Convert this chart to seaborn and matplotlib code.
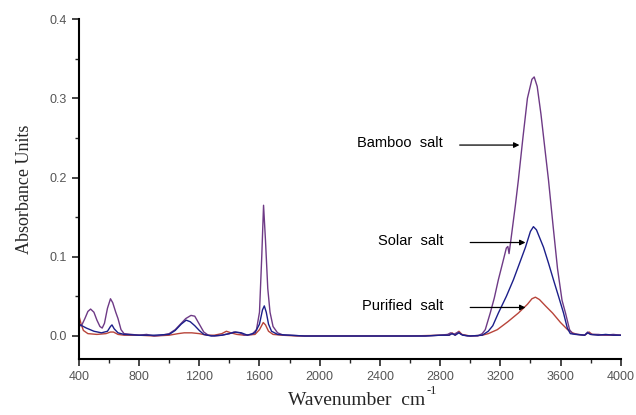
import numpy as np
import pandas as pd
import seaborn as sns
import matplotlib
matplotlib.use('Agg')
import matplotlib.pyplot as plt
from matplotlib.ticker import MultipleLocator

# FTIR spectra (wavenumber cm-1, absorbance)
bamboo_wn = [400, 420, 440, 460, 478, 500, 520, 540, 555, 570, 590, 610, 625, 645, 660, 680, 700,
             750, 800, 850, 900, 950, 1000, 1040, 1080, 1110, 1145, 1170, 1200, 1230, 1260, 1300,
             1350, 1400, 1430, 1470, 1500, 1550, 1580, 1600, 1615, 1627, 1640, 1655, 1670, 1690,
             1720, 1760, 1800, 1900, 2000, 2100, 2200, 2300, 2400, 2500, 2600, 2700, 2800, 2850,
             2870, 2890, 2920, 2940, 2980, 3050, 3080, 3100, 3133, 3160, 3187, 3215, 3240, 3250,
             3258, 3268, 3300, 3320, 3350, 3380, 3410, 3425, 3445, 3470, 3500, 3520, 3550, 3580,
             3610, 3633, 3660, 3680, 3720, 3760, 3780, 3800, 3850, 3900, 3950, 4000]
bamboo_abs = [0.012, 0.014, 0.022, 0.031, 0.034, 0.030, 0.020, 0.012, 0.010, 0.016, 0.035, 0.047,
              0.042, 0.030, 0.022, 0.008, 0.003, 0.002, 0.001, 0.002, 0.000, 0.001, 0.003, 0.008,
              0.016, 0.022, 0.026, 0.025, 0.015, 0.005, 0.001, 0.000, 0.001, 0.003, 0.005, 0.004,
              0.001, 0.002, 0.008, 0.030, 0.100, 0.165, 0.120, 0.060, 0.030, 0.012, 0.004, 0.001,
              0.001, 0.000, 0.000, 0.000, 0.000, 0.000, 0.000, 0.000, 0.000, 0.000, 0.001, 0.002,
              0.004, 0.002, 0.005, 0.002, 0.000, 0.000, 0.003, 0.008, 0.029, 0.048, 0.071, 0.092,
              0.111, 0.113, 0.104, 0.118, 0.165, 0.197, 0.250, 0.300, 0.324, 0.327, 0.315, 0.280,
              0.230, 0.197, 0.140, 0.085, 0.045, 0.029, 0.008, 0.003, 0.002, 0.001, 0.005, 0.002,
              0.002, 0.001, 0.002, 0.001]

solar_wn = [400, 450, 500, 550, 590, 610, 620, 635, 660, 700, 800, 900, 1000, 1040, 1080, 1113,
            1140, 1170, 1200, 1230, 1280, 1350, 1400, 1440, 1480, 1520, 1570, 1600, 1620, 1632,
            1645, 1660, 1680, 1720, 1800, 1900, 2000, 2100, 2200, 2300, 2400, 2500, 2600, 2700,
            2800, 2860, 2880, 2900, 2925, 2950, 3000, 3080, 3120, 3150, 3187, 3240, 3287, 3330,
            3367, 3400, 3420, 3440, 3487, 3520, 3553, 3590, 3620, 3645, 3665, 3700, 3760, 3780,
            3800, 3850, 3900, 3950, 4000]
solar_abs = [0.015, 0.010, 0.006, 0.004, 0.006, 0.012, 0.014, 0.009, 0.004, 0.002, 0.001, 0.001,
             0.002, 0.007, 0.015, 0.020, 0.018, 0.013, 0.007, 0.002, 0.000, 0.001, 0.003, 0.005,
             0.004, 0.001, 0.004, 0.015, 0.033, 0.038, 0.030, 0.015, 0.006, 0.002, 0.001, 0.000,
             0.000, 0.000, 0.000, 0.000, 0.000, 0.000, 0.000, 0.000, 0.001, 0.001, 0.003, 0.001,
             0.004, 0.001, 0.000, 0.001, 0.006, 0.013, 0.029, 0.050, 0.071, 0.093, 0.112, 0.132,
             0.138, 0.134, 0.112, 0.092, 0.071, 0.048, 0.029, 0.010, 0.003, 0.002, 0.001, 0.004,
             0.002, 0.001, 0.002, 0.001, 0.001]

purified_wn = [400, 415, 430, 460, 520, 580, 610, 630, 660, 700, 800, 900, 1000, 1060, 1100, 1150,
               1200, 1250, 1300, 1350, 1380, 1410, 1450, 1500, 1570, 1600, 1625, 1640, 1660, 1690,
               1750, 1850, 2000, 2200, 2400, 2600, 2800, 2860, 2880, 2900, 2925, 2945, 3000, 3080,
               3120, 3180, 3250, 3320, 3380, 3410, 3433, 3460, 3500, 3547, 3600, 3647, 3680, 3710,
               3760, 3790, 3810, 3900, 4000]
purified_abs = [0.026, 0.015, 0.007, 0.003, 0.002, 0.003, 0.005, 0.005, 0.002, 0.001, 0.001,
                0.000, 0.001, 0.003, 0.004, 0.004, 0.003, 0.001, 0.001, 0.003, 0.006, 0.004,
                0.002, 0.001, 0.002, 0.008, 0.017, 0.014, 0.006, 0.002, 0.001, 0.000, 0.000,
                0.000, 0.000, 0.000, 0.001, 0.001, 0.004, 0.001, 0.006, 0.002, 0.000, 0.001,
                0.003, 0.008, 0.018, 0.029, 0.040, 0.047, 0.049, 0.046, 0.038, 0.029, 0.017,
                0.008, 0.004, 0.002, 0.001, 0.005, 0.002, 0.001, 0.001]

colors = {'Bamboo salt': '#6e3a86', 'Solar salt': '#1c1f8a', 'Purified salt': '#b8443a'}

df = pd.concat([
    pd.DataFrame({'wn': bamboo_wn, 'abs': bamboo_abs, 'salt': 'Bamboo salt'}),
    pd.DataFrame({'wn': solar_wn, 'abs': solar_abs, 'salt': 'Solar salt'}),
    pd.DataFrame({'wn': purified_wn, 'abs': purified_abs, 'salt': 'Purified salt'}),
])

sns.set_style('ticks')
plt.rcParams['font.family'] = ['Liberation Sans', 'DejaVu Sans']

fig = plt.figure(figsize=(6.36, 4.15), dpi=100)
ax = fig.add_axes([0.124, 0.135, 0.852, 0.819])

sns.lineplot(data=df, x='wn', y='abs', hue='salt', palette=colors,
             hue_order=['Purified salt', 'Bamboo salt', 'Solar salt'],
             estimator=None, sort=False, linewidth=1.0, legend=False, ax=ax)

ax.set_xlim(400, 4000)
ax.set_ylim(-0.029, 0.4)
ax.xaxis.set_major_locator(MultipleLocator(400))
ax.xaxis.set_minor_locator(MultipleLocator(200))
ax.yaxis.set_major_locator(MultipleLocator(0.1))
ax.yaxis.set_minor_locator(MultipleLocator(0.05))
ax.yaxis.set_major_formatter(matplotlib.ticker.FormatStrFormatter('%.1f'))
ax.tick_params(which='major', length=5, width=1.2, direction='out', labelsize=9, labelcolor='#555555')
ax.tick_params(which='minor', length=3, width=1.0, direction='out')
for s in ['top', 'right']:
    ax.spines[s].set_visible(False)
for s in ['left', 'bottom']:
    ax.spines[s].set_linewidth(1.5)
    ax.spines[s].set_color('black')

# x label as plain text plus a small raised "-1"
ax.set_xlabel('')
fig.text(0.453, 0.025, 'Wavenumber  cm', ha='left', va='baseline',
         fontfamily='Liberation Serif', fontsize=14)
fig.text(0.671, 0.051, '-1', ha='left', va='baseline',
         fontfamily='Liberation Serif', fontsize=9)
ax.set_ylabel('Absorbance Units', fontfamily='Liberation Serif', fontsize=13, labelpad=12)

# labels with arrows pointing at each band
labels = [('Bamboo  salt', 2820, 0.243, 2930, 3327),
          ('Solar  salt', 2820, 0.120, 3000, 3367),
          ('Purified  salt', 2820, 0.038, 3000, 3367)]
for txt, tx, ty, ax0, ax1 in labels:
    ax.text(tx, ty, txt, ha='right', va='center', fontsize=10.5, color='black')
    ax.annotate('', xy=(ax1, ty - 0.002), xytext=(ax0, ty - 0.002),
                arrowprops=dict(arrowstyle='-|>', color='black', lw=0.9,
                                mutation_scale=8, shrinkA=0, shrinkB=0))

fig.savefig('out.png', dpi=100)
